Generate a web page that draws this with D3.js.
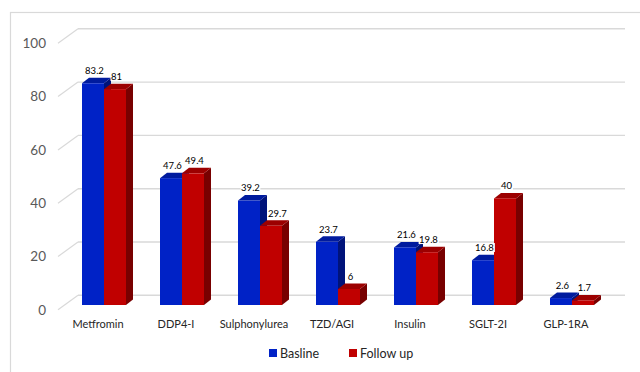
<!DOCTYPE html>
<html>
<head>
<meta charset="utf-8">
<script src="https://cdn.jsdelivr.net/npm/d3@7/dist/d3.min.js"></script>
<style>
  html, body { margin: 0; padding: 0; background: #fff; }
  svg { display: block; }
  text { font-family: Lato, "Open Sans", sans-serif; }
</style>
</head>
<body>
<svg id="chart" width="640" height="372"></svg>
<script>
// Treatment categories and the two survey rounds (percent of patients)
const categories = ["Metfromin", "DDP4-I", "Sulphonylurea", "TZD/AGI", "Insulin", "SGLT-2I", "GLP-1RA"];
const seriesNames = ["Basline", "Follow up"];
const baseline = [83.2, 47.6, 39.2, 23.7, 21.6, 16.8, 2.6];
const followUp = [81, 49.4, 29.7, 6, 19.8, 40, 1.7];
const yTicks = [0, 20, 40, 60, 80, 100];

const palette = {
  "Basline":   { front: "#0022c6", top: "#001b9e", side: "#00137a" },
  "Follow up": { front: "#c00000", top: "#9c0000", side: "#780000" }
};

const svg = d3.select("#chart");

// Frame around the chart area
svg.append("rect")
  .attr("x", 10.5).attr("y", 12.5)
  .attr("width", 640).attr("height", 372)
  .attr("fill", "none").attr("stroke", "#d9d9d9").attr("stroke-width", 1.2);

// 3D geometry: floor front plane, back wall offset, bar depth
const wallDX = 20, wallDY = -14.5;
const floorFrontY = 309.8;
const barFrontY = 305;
const barDX = 7, barDY = -5.5;
const pxPerUnit = 2.665;

// Value scales for the front floor edge (tick labels), back wall (gridlines) and bar faces
const yFront = d3.scaleLinear().domain([0, 100]).range([floorFrontY, floorFrontY - 100 * pxPerUnit]);
const yWall = d3.scaleLinear().domain([0, 100]).range([floorFrontY + wallDY, floorFrontY + wallDY - 100 * pxPerUnit]);
const yBar = d3.scaleLinear().domain([0, 100]).range([barFrontY, barFrontY - 100 * pxPerUnit]);

const wallLeft = 78, wallRight = 625;
const frontLeft = wallLeft - wallDX;

// Category bands and the two bars within each
const x = d3.scaleBand().domain(categories).range([65, 611]).padding(0);
const xs = d3.scaleBand().domain(seriesNames).range([0, 44]).padding(0);
const barOffset = (x.bandwidth() - 44) / 2;

// Gridlines on the back wall with the diagonal floor-side edges
const grid = svg.append("g");
grid.selectAll("line.wall")
  .data(yTicks).join("line")
  .attr("x1", wallLeft).attr("x2", wallRight)
  .attr("y1", d => yWall(d)).attr("y2", d => yWall(d))
  .attr("stroke", "#d9d9d9").attr("stroke-width", 1.4);
grid.selectAll("line.side")
  .data(yTicks).join("line")
  .attr("x1", frontLeft).attr("x2", wallLeft)
  .attr("y1", d => yFront(d)).attr("y2", d => yWall(d))
  .attr("stroke", "#d9d9d9").attr("stroke-width", 1.2);

// Value axis labels
const yAxis = d3.axisLeft(yFront).tickValues(yTicks).tickSize(0).tickPadding(0);
const yAxisG = svg.append("g").attr("transform", "translate(46,0)").call(yAxis);
yAxisG.select(".domain").remove();
yAxisG.selectAll("text")
  .attr("fill", "#595959").attr("font-size", 13.5)
  .style("font-family", "Lato, 'Open Sans', sans-serif");

// Category labels along the floor front
svg.append("g").selectAll("text")
  .data(categories).join("text")
  .attr("x", d => x(d) + x.bandwidth() / 2 - 6)
  .attr("y", 328)
  .attr("text-anchor", "middle")
  .attr("font-size", 11)
  .attr("fill", "#262626")
  .text(d => d);

// Flatten into bar records
const bars = [];
categories.forEach((c, i) => {
  bars.push({ cat: c, series: "Basline", value: baseline[i], partner: followUp[i] });
  bars.push({ cat: c, series: "Follow up", value: followUp[i], partner: baseline[i] });
});

const barsG = svg.append("g");
bars.forEach(b => {
  const x0 = x(b.cat) + barOffset + xs(b.series);
  const x1 = x0 + xs.bandwidth();
  const yb = yBar(0);
  const yt = yBar(b.value);
  const col = palette[b.series];
  const g = barsG.append("g");
  // side face
  g.append("path")
    .attr("d", `M${x1},${yb} L${x1 + barDX},${yb + barDY} L${x1 + barDX},${yt + barDY} L${x1},${yt} Z`)
    .attr("fill", col.side);
  // top face
  g.append("path")
    .attr("d", `M${x0},${yt} L${x0 + barDX},${yt + barDY} L${x1 + barDX},${yt + barDY} L${x1},${yt} Z`)
    .attr("fill", col.top);
  // front face
  g.append("rect")
    .attr("x", x0).attr("y", yt)
    .attr("width", x1 - x0).attr("height", yb - yt)
    .attr("fill", col.front);
});

// Value labels above each bar, on a white box; a follow-up label that would
// sit on the taller baseline bar's side face is moved just past it
const labelsG = svg.append("g");
bars.forEach(b => {
  const cx = x(b.cat) + barOffset + xs(b.series) + xs.bandwidth() / 2 + 1.5;
  const cy = yBar(b.value) + barDY - 7;
  const g = labelsG.append("g");
  const bg = g.append("rect").attr("fill", "#fff");
  const t = g.append("text")
    .attr("x", cx).attr("y", cy + 3.3)
    .attr("text-anchor", "middle")
    .attr("font-size", 9.5)
    .attr("fill", "#000")
    .text(b.value);
  let bb = t.node().getBBox();
  if (b.series === "Follow up") {
    const blueSideRight = x(b.cat) + barOffset + xs.bandwidth() + barDX;
    const blueTop = yBar(b.partner) + barDY;
    const overlapY = (bb.y + bb.height) - blueTop;
    if (overlapY > bb.height / 2 && bb.x < blueSideRight + 1) {
      t.attr("x", cx + (blueSideRight + 1 - bb.x));
      bb = t.node().getBBox();
    }
  }
  bg.attr("x", bb.x - 0.5).attr("y", bb.y + 1)
    .attr("width", bb.width + 1).attr("height", bb.height - 2);
});

// Legend
const legend = svg.append("g");
const legendX = [269, 349];
seriesNames.forEach((s, i) => {
  legend.append("rect")
    .attr("x", legendX[i]).attr("y", 349)
    .attr("width", 8).attr("height", 8)
    .attr("fill", palette[s].front);
  legend.append("text")
    .attr("x", legendX[i] + 11).attr("y", 357.5)
    .attr("font-size", 12.5).attr("fill", "#262626")
    .text(s);
});
</script>
</body>
</html>
